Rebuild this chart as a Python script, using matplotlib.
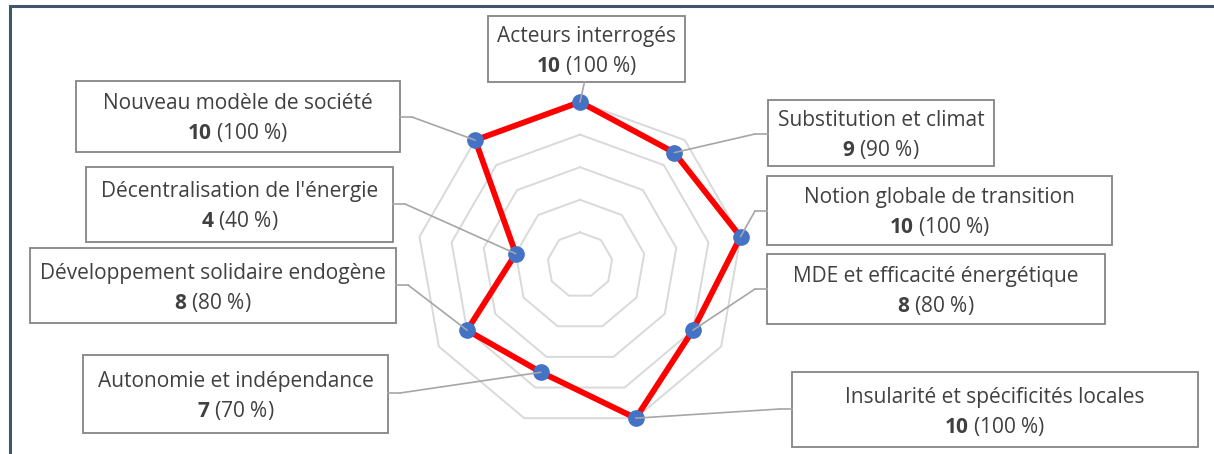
import numpy as np
import matplotlib
matplotlib.use("Agg")
import matplotlib.pyplot as plt
from matplotlib.patches import Rectangle, ConnectionPatch
from matplotlib.lines import Line2D

# ---------------- data ----------------
categories = [
    "Acteurs interrogés",
    "Substitution et climat",
    "Notion globale de transition",
    "MDE et efficacité énergétique",
    "Insularité et spécificités locales",
    "Autonomie et indépendance",
    "Développement solidaire endogène",
    "Décentralisation de l'énergie",
    "Nouveau modèle de société",
]
values = [10, 9, 10, 8, 10, 7, 8, 4, 10]
total = 10
ring_levels = [2, 4, 6, 8, 10]

# ---------------- layout (image pixel coords, y down) ----------------
W, H = 1214, 454
boxes = [
    (488, 16, 685, 82),
    (768, 100, 994, 166),
    (767, 176, 1112, 245),
    (767, 254, 1105, 324),
    (792, 372, 1198, 447),
    (83, 355, 388, 433),
    (30, 248, 396, 323),
    (86, 167, 393, 242),
    (76, 81, 400, 152),
]
elbows = [
    None,
    (755, 134),
    (755, 211),
    (755, 289),
    (780, 409),
    (400, 393),
    (408, 285),
    (405, 204),
    (412, 117),
]

FONT = 'Open Sans'
plt.rcParams['font.family'] = [FONT, 'DejaVu Sans']
plt.rcParams['mathtext.fontset'] = 'custom'
plt.rcParams['mathtext.rm'] = FONT
plt.rcParams['mathtext.bf'] = FONT + ':bold'

TXT = '#404040'
BOXC = '#858585'
LEADC = '#A6A6A6'
FS = 15

def fx(x):
    return x / W

def fy(y):
    return 1 - y / H

fig = plt.figure(figsize=(W / 100, H / 100), dpi=100)
fig.patch.set_facecolor('white')

cx, cy, R = 580, 265, 163
ax = fig.add_axes([(cx - R) / W, (H - cy - R) / H, 2 * R / W, 2 * R / H],
                  projection='polar')
ax.set_theta_zero_location('N')
ax.set_theta_direction(-1)
ax.set_ylim(0, 10)
ax.set_axis_off()

n = len(categories)
theta = np.linspace(0, 2 * np.pi, n, endpoint=False)
theta_c = np.append(theta, theta[0])

for lvl in ring_levels:
    ax.plot(theta_c, [lvl] * (n + 1), color='#D9D9D9', lw=1.4,
            zorder=1, clip_on=False)

vals_c = values + values[:1]
ax.plot(theta_c, vals_c, color='#FF0000', lw=4.2, zorder=3,
        clip_on=False, solid_joinstyle='miter')
ax.plot(theta, values, 'o', ms=11, color='#4472C4', mec='#4472C4',
        zorder=4, clip_on=False)

# figure border
fig.add_artist(Rectangle((fx(10), fy(480)), 1230 / W, 474 / H,
                         transform=fig.transFigure, fill=False,
                         edgecolor='#44546A', lw=2.2, zorder=0))

for i, (cat, v) in enumerate(zip(categories, values)):
    l, t, r, b = boxes[i]
    fig.add_artist(Rectangle((fx(l), fy(b)), (r - l) / W, (b - t) / H,
                             transform=fig.transFigure, facecolor='white',
                             edgecolor=BOXC, lw=1.3, zorder=2))
    bx = (l + r) / 2
    bcy = (t + b) / 2
    fig.text(fx(bx), fy(bcy - 7), cat, ha='center', va='baseline',
             fontsize=FS, color=TXT, zorder=3)
    pct = round(v / total * 100)
    fig.text(fx(bx), fy(bcy + 23), r"$\mathbf{%d}$ (%d %%)" % (v, pct),
             ha='center', va='baseline', fontsize=FS, color=TXT, zorder=3)

    if elbows[i] is None:
        start = (bx - 2, b)
    else:
        ex, ey = elbows[i]
        edge_x = r if ex < cx else l
        fig.add_artist(Line2D([fx(edge_x), fx(ex)], [fy(ey), fy(ey)],
                              transform=fig.transFigure, color=LEADC,
                              lw=1.2, zorder=5))
        start = (ex, ey)
    con = ConnectionPatch(xyA=(fx(start[0]), fy(start[1])),
                          coordsA=fig.transFigure,
                          xyB=(theta[i], v), coordsB=ax.transData,
                          color=LEADC, lw=1.2, zorder=5)
    fig.add_artist(con)

fig.savefig('out.png', dpi=100, facecolor='white')
